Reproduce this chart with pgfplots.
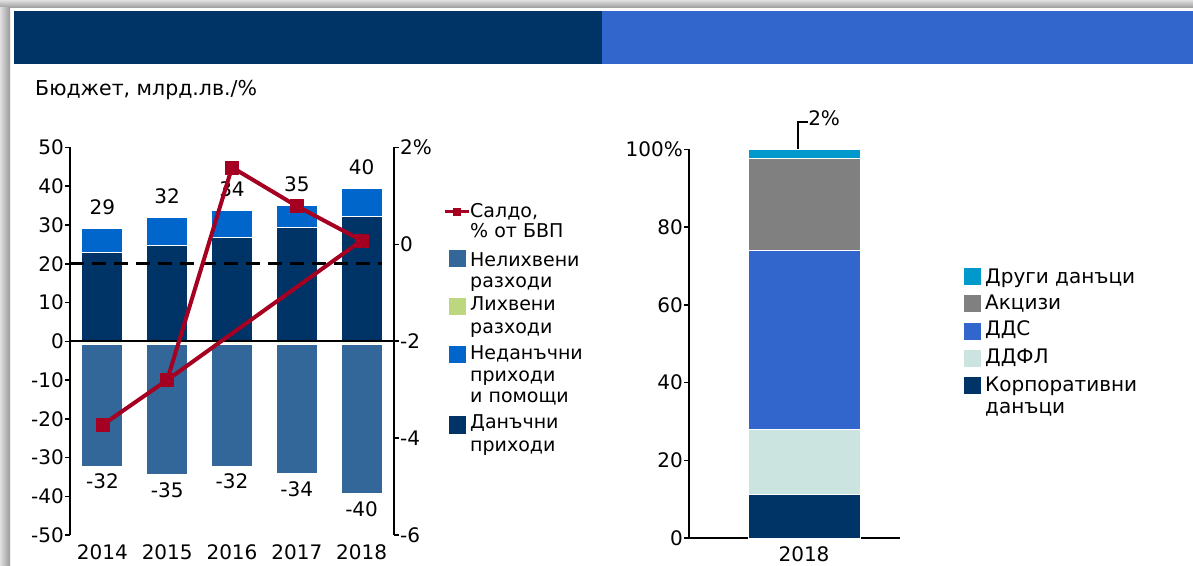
\documentclass[border=0pt]{standalone}
\usepackage{fontspec}
\setmainfont{DejaVu Sans}
\usepackage{pgfplots}
\pgfplotsset{compat=1.18}

\definecolor{navy}{RGB}{0,51,102}
\definecolor{ntblue}{RGB}{0,102,204}
\definecolor{expblue}{RGB}{51,102,153}
\definecolor{intgreen}{RGB}{189,215,126}
\definecolor{saldored}{RGB}{165,0,33}
\definecolor{vatblue}{RGB}{51,102,204}
\definecolor{pitmint}{RGB}{204,228,224}
\definecolor{excgray}{RGB}{128,128,128}
\definecolor{othcyan}{RGB}{0,153,204}

\newcommand{\fs}{\fontsize{19}{22}\selectfont}
\newcommand{\ft}{\fontsize{20}{23}\selectfont}

\pgfplotsset{
  common/.style={
    scale only axis, clip=false, anchor=south west,
    tick align=outside, major tick length=5pt,
    axis line style={line width=2pt,-},
    every tick/.style={black, line width=1.5pt},
    /pgf/number format/assume math mode=true,
    tick label style={font=\ft},
  }
}

\begin{document}
\begin{tikzpicture}[x=1pt,y=1pt,font=\fs]
\useasboundingbox (0,0) rectangle (1193,565);
\fill[white] (0,0) rectangle (1193,565);
\shade[top color=black!12, bottom color=black!40] (0,557) rectangle (1193,565);
\shade[left color=black!12, right color=black!40] (0,0) rectangle (10,557);
\fill[navy] (14,501) rectangle (602,554);
\fill[vatblue] (602,501) rectangle (1193,554);
\node[anchor=base west, inner sep=0, font=\fontsize{20.5}{24}\selectfont] at (35,469) {Бюджет, млрд.лв./\%};

% ---------- left chart: bars ----------
\begin{axis}[common,
  at={(70pt,30pt)}, width=324pt, height=387.5pt,
  xmin=-0.5, xmax=4.5, ymin=-50, ymax=50,
  axis y line*=left, axis x line*=bottom,
  x axis line style={draw=none},
  xtick={0,1,2,3,4}, xticklabels={2014,2015,2016,2017,2018},
  xtick style={draw=none},
  xticklabel style={inner ysep=4pt},
  ytick={-50,-40,-30,-20,-10,0,10,20,30,40,50},
  yticklabels={-50,-40,-30,-20,-10,0,10,20,30,40,50},
  yticklabel style={inner xsep=1pt},
]
\addplot[ybar, bar width=0.63, bar shift=0pt, fill=ntblue, draw=white, line width=1pt]
  coordinates {(0,29.1) (1,31.9) (2,33.8) (3,35.1) (4,39.4)};
\addplot[ybar, bar width=0.63, bar shift=0pt, fill=navy, draw=white, line width=1pt]
  coordinates {(0,22.9) (1,24.7) (2,26.7) (3,29.3) (4,32.1)};
\addplot[ybar, bar width=0.63, bar shift=0pt, fill=expblue, draw=white, line width=1pt]
  coordinates {(0,-32.2) (1,-34.5) (2,-32.2) (3,-34.2) (4,-39.2)};
\addplot[ybar, bar width=0.63, bar shift=0pt, fill=intgreen!15, draw=white, line width=1pt]
  coordinates {(0,-0.9) (1,-0.9) (2,-0.9) (3,-0.9) (4,-0.9)};
% totals
\addplot[draw=none, mark=none, nodes near coords, point meta=explicit symbolic,
  every node near coord/.append style={anchor=center, font=\ft}]
  table[meta=lbl, row sep=\\] {x y lbl\\ 0 34.6 29\\ 1 37.4 32\\ 2 39.3 34\\ 3 40.6 35\\ 4 44.9 40\\};
\addplot[draw=none, mark=none, nodes near coords, point meta=explicit symbolic,
  every node near coord/.append style={anchor=center, font=\ft}]
  table[meta=lbl, row sep=\\] {x y lbl\\ 0 -36.2 -32\\ 1 -38.5 -35\\ 2 -36.2 -32\\ 3 -38.2 -34\\ 4 -43.3 -40\\};
\addplot[black, line width=3pt, dash pattern=on 14pt off 8pt] coordinates {(-0.5,20) (4.315,20)};
\addplot[black, line width=2pt] coordinates {(-0.5,0) (4.5,0)};
\end{axis}

% ---------- left chart: balance line ----------
\begin{axis}[common,
  at={(70pt,30pt)}, width=324pt, height=387.5pt,
  xmin=-0.5, xmax=4.5, ymin=-6, ymax=2,
  axis x line=none, axis y line*=right,
  ytick={-6,-4,-2,0,2}, yticklabels={-6,-4,-2,0,2\%},
  yticklabel style={inner xsep=1pt},
]
\addplot[saldored, line width=4pt, line join=round, mark=square*, mark size=6.5pt, mark options={solid, line width=0.5pt}]
  coordinates {(0,-3.73) (1,-2.80) (2,1.59) (3,0.79) (4,0.08) (1,-2.80)};
\end{axis}

% left legend
\draw[saldored, line width=3.5pt] (445,353.3) -- (469,353.3);
\fill[saldored] (453,349.3) rectangle (461,357.3);
\node[anchor=base west, inner sep=0] at (470,347) {Салдо,};
\node[anchor=base west, inner sep=0] at (470,327) {\% от БВП};
\fill[expblue] (449,297.5) rectangle (466,314.5);
\node[anchor=base west, inner sep=0] at (470,298) {Нелихвени};
\node[anchor=base west, inner sep=0] at (470,277) {разходи};
\fill[intgreen] (449,249.5) rectangle (466,266.5);
\node[anchor=base west, inner sep=0] at (470,254) {Лихвени};
\node[anchor=base west, inner sep=0] at (470,231) {разходи};
\fill[ntblue] (449,201.5) rectangle (466,218.5);
\node[anchor=base west, inner sep=0] at (470,205) {Неданъчни};
\node[anchor=base west, inner sep=0] at (470,183) {приходи};
\node[anchor=base west, inner sep=0] at (470,162) {и помощи};
\fill[navy] (449,131.5) rectangle (466,148.5);
\node[anchor=base west, inner sep=0] at (470,137) {Данъчни};
\node[anchor=base west, inner sep=0] at (470,114) {приходи};

% ---------- right chart ----------
\begin{axis}[common,
  at={(689pt,27pt)}, width=211pt, height=388.5pt,
  xmin=-1.027, xmax=0.857, ymin=0, ymax=100,
  axis y line*=left, axis x line*=bottom,
  ybar stacked, bar width=1,
  xtick={0}, xticklabels={2018}, xtick style={draw=none},
  xticklabel style={inner ysep=3pt},
  ytick={0,20,40,60,80,100}, yticklabels={0,20,40,60,80,100\%},
  yticklabel style={inner xsep=1pt},
]
\addplot[fill=navy, draw=white, line width=1pt] coordinates {(0,11.2)};
\addplot[fill=pitmint, draw=white, line width=1pt] coordinates {(0,16.8)};
\addplot[fill=vatblue, draw=white, line width=1pt] coordinates {(0,46.0)};
\addplot[fill=excgray, draw=white, line width=1pt] coordinates {(0,23.8)};
\addplot[fill=othcyan, draw=white, line width=1pt] coordinates {(0,2.2)};
\node[text=white, font=\ft] at (axis cs:0,6.8) {11\%};
\node[text=black, font=\ft] at (axis cs:0,20.7) {17\%};
\node[text=white, font=\ft] at (axis cs:0,52.3) {46\%};
\node[text=white, font=\ft] at (axis cs:0,87) {24\%};
\draw[line width=1.5pt] (axis cs:-0.054,99.3) |- (axis cs:0.036,107.1);
\node[anchor=west, inner sep=0, font=\ft] at (axis cs:0.036,108) {2\%};
\end{axis}

% right legend
\fill[othcyan] (964,279.5) rectangle (981,296.5);
\node[anchor=base west, inner sep=0, font=\ft] at (985,281) {Други данъци};
\fill[excgray] (964,252.5) rectangle (981,269.5);
\node[anchor=base west, inner sep=0, font=\ft] at (985,255.7) {Акцизи};
\fill[vatblue] (964,224.5) rectangle (981,241.5);
\node[anchor=base west, inner sep=0, font=\ft] at (985,229) {ДДС};
\fill[pitmint] (964,197.5) rectangle (981,214.5);
\node[anchor=base west, inner sep=0, font=\ft] at (985,201.7) {ДДФЛ};
\fill[navy] (964,170.5) rectangle (981,187.5);
\node[anchor=base west, inner sep=0, font=\ft] at (985,173.3) {Корпоративни};
\node[anchor=base west, inner sep=0, font=\ft] at (985,151.7) {данъци};
\end{tikzpicture}
\end{document}
